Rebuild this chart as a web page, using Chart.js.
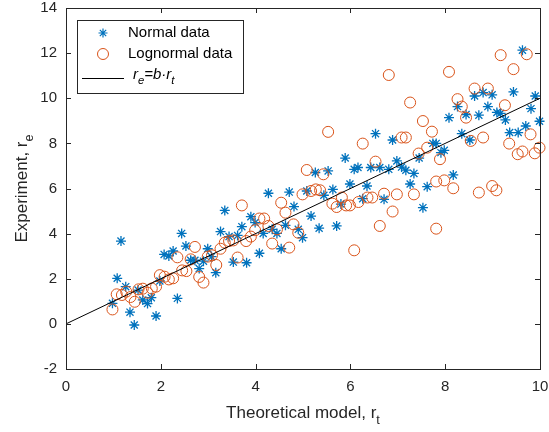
<!DOCTYPE html>
<html>
<head>
<meta charset="utf-8">
<script src="https://cdn.jsdelivr.net/npm/chart.js@4.4.0/dist/chart.umd.min.js"></script>
<style>
html, body { margin: 0; padding: 0; background: #fff; }
</style>
</head>
<body>
<canvas id="myChart" width="549" height="432"></canvas>
<script>
// values
const normalX = [1.16, 1.08, 1.26, 0.98, 1.35, 1.44, 1.52, 1.62, 1.72, 1.80, 1.90, 1.98, 2.07, 2.17, 2.26, 2.35, 2.44, 2.53, 2.63, 2.72,
  2.81, 2.90, 2.99, 3.07, 3.16, 3.26, 3.35, 3.44, 3.53, 3.62, 3.71, 3.81, 3.90, 3.99, 4.08, 4.27, 4.71, 4.16, 4.35, 4.45,
  4.54, 4.63, 4.81, 4.90, 4.99, 5.08, 5.17, 5.34, 5.44, 5.63, 5.71, 5.80, 5.99, 6.26, 6.35, 6.71, 7.26, 7.53, 7.62, 6.53,
  6.89, 5.89, 6.08, 6.16, 5.26, 5.53, 6.43, 6.62, 6.81, 6.98, 7.08, 7.17, 7.34, 7.45, 7.74, 9.63, 9.44, 9.90, 8.62, 8.80,
  8.99, 8.26, 8.90, 9.81, 8.08, 8.44, 8.71, 9.09, 9.17, 9.27, 9.99, 9.70, 8.35, 9.36, 9.54, 8.52, 7.81, 7.91, 7.98, 8.17];
const normalY = [3.67, 2.02, 1.65, 0.91, 0.52, -0.05, 1.50, 1.06, 0.90, 1.16, 0.35, 1.90, 3.08, 3.01, 3.23, 1.13, 4.01, 3.45, 2.82, 2.82,
  2.45, 2.78, 3.33, 2.98, 2.27, 4.09, 5.03, 3.87, 2.74, 3.92, 4.31, 2.71, 4.75, 4.49, 3.13, 5.79, 5.84, 4.01, 4.19, 4.01,
  3.33, 4.37, 5.20, 4.19, 3.82, 5.89, 4.78, 4.24, 5.70, 5.96, 4.34, 5.31, 6.20, 5.55, 6.11, 5.52, 6.20, 5.15, 6.08, 8.43,
  8.15, 7.35, 6.85, 6.93, 6.71, 6.78, 6.93, 6.93, 6.85, 7.22, 6.95, 6.81, 6.67, 7.35, 8.00, 12.13, 10.28, 10.10, 10.10, 10.25,
  10.15, 9.63, 9.63, 9.54, 9.14, 9.28, 9.25, 9.37, 9.33, 9.04, 8.98, 8.77, 8.43, 8.48, 8.48, 8.15, 8.00, 7.59, 7.69, 6.60];
const lognormalX = [0.98, 1.07, 1.18, 1.27, 1.36, 1.45, 1.53, 1.62, 1.72, 1.81, 1.90, 1.98, 2.08, 2.17, 2.26, 2.35, 2.45, 2.54, 2.72, 2.63,
  2.81, 2.90, 2.99, 3.08, 3.17, 3.26, 3.35, 3.44, 3.53, 3.62, 3.71, 3.80, 3.90, 3.99, 4.08, 4.18, 4.27, 4.35, 4.45, 4.54,
  4.63, 4.71, 4.80, 4.90, 4.99, 5.17, 5.27, 5.36, 5.62, 5.71, 5.82, 5.91, 5.99, 6.08, 6.17, 6.36, 6.46, 6.62, 6.71, 6.89,
  6.98, 7.34, 7.81, 7.81, 7.98, 8.17, 8.71, 8.99, 9.08, 6.81, 7.26, 7.53, 7.72, 5.53, 6.26, 7.08, 7.17, 6.53, 7.44, 7.62,
  7.89, 5.08, 5.43, 9.17, 9.72, 9.44, 8.08, 8.62, 8.90, 8.26, 8.35, 8.44, 9.26, 8.54, 8.80, 9.35, 9.80, 9.53, 9.63, 9.89, 9.99];
const lognormalY = [0.64, 1.31, 1.28, 1.43, 1.19, 0.98, 1.53, 1.56, 1.38, 1.57, 1.65, 2.16, 2.09, 1.97, 2.02, 2.95, 2.37, 2.34, 3.41, 2.86,
  2.08, 1.83, 2.98, 3.04, 2.61, 3.33, 3.60, 3.67, 3.70, 2.94, 5.25, 3.67, 3.87, 4.15, 4.67, 4.67, 4.34, 3.56, 4.19, 5.37,
  4.93, 3.38, 4.41, 4.04, 5.74, 5.89, 5.96, 5.92, 5.33, 5.18, 5.60, 5.25, 5.25, 3.26, 5.40, 5.60, 5.60, 4.34, 5.77, 4.98,
  5.74, 5.74, 4.22, 6.31, 6.36, 6.01, 5.82, 6.11, 5.92, 11.03, 9.81, 8.99, 8.52, 8.51, 7.99, 8.26, 8.26, 7.19, 7.55, 7.81,
  7.30, 6.82, 6.63, 11.91, 11.95, 11.29, 11.17, 10.43, 10.43, 9.96, 9.63, 9.14, 9.69, 8.11, 8.26, 7.99, 8.40, 7.52, 7.64, 7.56, 7.81];
const fitSlope = 1.0;
const fitX = [0, 10];
const xTicks = [0, 2, 4, 6, 8, 10];
const yTicks = [-2, 0, 2, 4, 6, 8, 10, 12, 14];

const axisColor = '#262626';
const blue = '#0072BD';
const orange = '#D95319';
const fontFamily = '"Liberation Sans", Arial, sans-serif';

function toPoints(xs, ys) {
    return xs.map((x, i) => ({ x: x, y: ys[i] }));
}

// draws text where some parts are subscripts / italic
function drawParts(ctx, parts, x, y, size, align) {
    let widths = parts.map(p => {
        ctx.font = (p.italic ? 'italic ' : '') + (p.sub ? size * 0.75 : size) + 'px ' + fontFamily;
        return ctx.measureText(p.t).width;
    });
    let total = widths.reduce((a, b) => a + b, 0);
    let cx = align === 'center' ? x - total / 2 : x;
    parts.forEach((p, i) => {
        ctx.font = (p.italic ? 'italic ' : '') + (p.sub ? size * 0.75 : size) + 'px ' + fontFamily;
        ctx.fillText(p.t, cx, p.sub ? y + size * 0.38 : y);
        cx += widths[i];
    });
}

const boxPlugin = {
    id: 'boxPlugin',
    afterDraw(chart) {
        const ctx = chart.ctx;
        const a = chart.chartArea;
        const xs = chart.scales.x;
        const ys = chart.scales.y;
        ctx.save();
        ctx.strokeStyle = axisColor;
        ctx.lineWidth = 1;
        ctx.strokeRect(Math.round(a.left) + 0.5, Math.round(a.top) + 0.5, Math.round(a.right - a.left), Math.round(a.bottom - a.top));
        ctx.beginPath();
        xTicks.forEach(v => {
            const px = Math.round(xs.getPixelForValue(v)) + 0.5;
            ctx.moveTo(px, a.bottom); ctx.lineTo(px, a.bottom - 5);
            ctx.moveTo(px, a.top); ctx.lineTo(px, a.top + 5);
        });
        yTicks.forEach(v => {
            const py = Math.round(ys.getPixelForValue(v)) + 0.5;
            ctx.moveTo(a.left, py); ctx.lineTo(a.left + 5, py);
            ctx.moveTo(a.right, py); ctx.lineTo(a.right - 5, py);
        });
        ctx.stroke();

        // axis titles
        ctx.fillStyle = axisColor;
        ctx.textBaseline = 'alphabetic';
        ctx.textAlign = 'left';
        drawParts(ctx, [{ t: 'Theoretical model, r' }, { t: 't', sub: true }], (a.left + a.right) / 2, 418, 17, 'center');
        ctx.save();
        ctx.translate(27, (a.top + a.bottom) / 2);
        ctx.rotate(-Math.PI / 2);
        drawParts(ctx, [{ t: 'Experiment, r' }, { t: 'e', sub: true }], 0, 0, 17, 'center');
        ctx.restore();

        // legend box
        const lx = 77, ly = 20, lw = 166, lh = 73;
        ctx.fillStyle = '#fff';
        ctx.fillRect(lx, ly, lw, lh);
        ctx.strokeStyle = axisColor;
        ctx.strokeRect(lx + 0.5, ly + 0.5, lw, lh);
        const ds = chart.data.datasets;
        ctx.strokeStyle = blue;
        ctx.lineWidth = 1.2;
        Chart.helpers.drawPoint(ctx, { pointStyle: 'star', radius: 4.5, borderWidth: 1.2 }, 103, 33);
        ctx.lineWidth = 1;
        ctx.strokeStyle = orange;
        ctx.fillStyle = 'rgba(0,0,0,0)';
        Chart.helpers.drawPoint(ctx, { pointStyle: 'circle', radius: ds[1].pointRadius, borderWidth: 1 }, 103, 54);
        ctx.strokeStyle = '#000';
        ctx.beginPath();
        ctx.moveTo(82, 78.5); ctx.lineTo(124, 78.5);
        ctx.stroke();
        ctx.fillStyle = '#000';
        ctx.textBaseline = 'middle';
        ctx.font = '15px ' + fontFamily;
        ctx.fillText(ds[2].label, 128, 33);
        ctx.fillText(ds[1].label, 128, 54);
        drawParts(ctx, [{ t: 'r', italic: true }, { t: 'e', sub: true, italic: true }, { t: '=b\u00b7r', italic: true }, { t: 't', sub: true, italic: true }], 133, 75, 15, 'left');
        ctx.restore();
    }
};

const ctx = document.getElementById('myChart').getContext('2d');
new Chart(ctx, {
    type: 'scatter',
    data: {
        datasets: [{
            type: 'line',
            label: 'fit',
            data: fitX.map(x => ({ x: x, y: fitSlope * x })),
            borderColor: '#000',
            borderWidth: 1,
            pointRadius: 0,
            order: 0
        }, {
            label: 'Lognormal data',
            data: toPoints(lognormalX, lognormalY),
            pointStyle: 'circle',
            pointRadius: 5.5,
            borderColor: orange,
            backgroundColor: 'rgba(0,0,0,0)',
            borderWidth: 1,
            clip: false,
            order: 1
        }, {
            label: 'Normal data',
            data: toPoints(normalX, normalY),
            pointStyle: 'star',
            pointRadius: 5,
            borderColor: blue,
            backgroundColor: blue,
            borderWidth: 1.3,
            clip: false,
            order: 2
        }]
    },
    options: {
        responsive: false,
        animation: false,
        layout: { padding: { top: 8, right: 9, left: 0, bottom: 0 } },
        plugins: { legend: { display: false }, tooltip: { enabled: false } },
        scales: {
            x: {
                type: 'linear', min: 0, max: 10,
                afterFit: s => { s.height = 63; s.paddingLeft = 0; s.paddingRight = 0; },
                afterBuildTicks: s => { s.ticks = xTicks.map(v => ({ value: v })); },
                grid: { display: false, drawTicks: false },
                border: { display: false },
                ticks: { padding: 9, color: axisColor, font: { family: fontFamily, size: 15 } }
            },
            y: {
                type: 'linear', min: -2, max: 14,
                afterFit: s => { s.width = 66; s.paddingTop = 0; s.paddingBottom = 0; },
                afterBuildTicks: s => { s.ticks = yTicks.map(v => ({ value: v })); },
                grid: { display: false, drawTicks: false },
                border: { display: false },
                ticks: { padding: 9, color: axisColor, font: { family: fontFamily, size: 15 } }
            }
        }
    },
    plugins: [boxPlugin]
});
</script>
</body>
</html>
